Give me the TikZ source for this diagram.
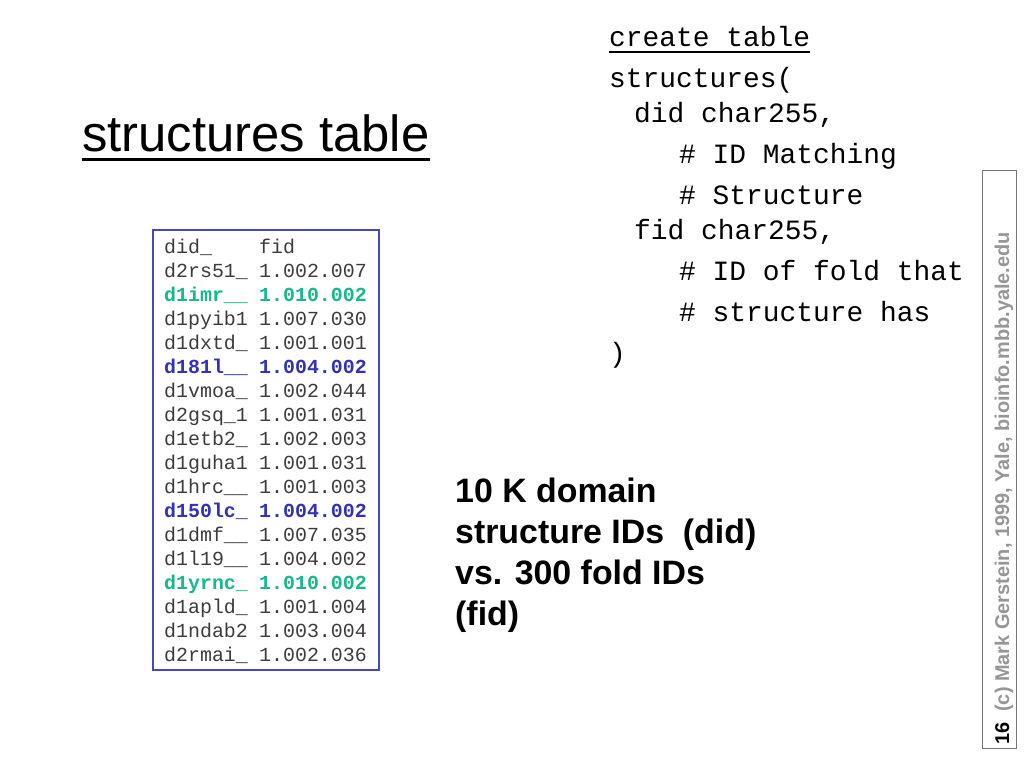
\documentclass[tikz,border=0pt]{standalone}
\usepackage{fontspec}
\setmainfont{Liberation Sans}
\setmonofont{Liberation Mono}
\definecolor{tblue}{RGB}{72,72,190}
\definecolor{rowblue}{RGB}{50,50,185}
\definecolor{rowgreen}{RGB}{22,185,140}
\definecolor{cellgrey}{RGB}{60,60,60}
\definecolor{sidegrey}{RGB}{150,150,150}
\tikzset{
  codeline/.style={anchor=base west, inner sep=0pt, font=\ttfamily\fontsize{28}{34}\selectfont},
  note/.style={anchor=base west, inner sep=0pt, font=\bfseries\fontsize{34}{41}\selectfont},
}
\begin{document}
\begin{tikzpicture}[x=1bp,y=-1bp]
    \useasboundingbox[fill=white] (0,0) rectangle (1024,768);
    %title
    \node[anchor=base west,inner sep=0pt,font=\fontsize{51}{61}\selectfont] (title) at (82,151) {structures table};
    \draw[line width=3.5] ([yshift=-8.5]title.base west) -- ([yshift=-8.5]title.base east);
    %draw table
    \draw[tblue,line width=1.2] (153,230) rectangle (379,670);
    \foreach \did/\fid/\col/\wt [count=\i from 0] in {%
        did\_/fid/cellgrey/\mdseries,
        d2rs51\_/1.002.007/cellgrey/\mdseries,
        d1imr\_\_/1.010.002/rowgreen/\bfseries,
        d1pyib1/1.007.030/cellgrey/\mdseries,
        d1dxtd\_/1.001.001/cellgrey/\mdseries,
        d181l\_\_/1.004.002/rowblue/\bfseries,
        d1vmoa\_/1.002.044/cellgrey/\mdseries,
        d2gsq\_1/1.001.031/cellgrey/\mdseries,
        d1etb2\_/1.002.003/cellgrey/\mdseries,
        d1guha1/1.001.031/cellgrey/\mdseries,
        d1hrc\_\_/1.001.003/cellgrey/\mdseries,
        d150lc\_/1.004.002/rowblue/\bfseries,
        d1dmf\_\_/1.007.035/cellgrey/\mdseries,
        d1l19\_\_/1.004.002/cellgrey/\mdseries,
        d1yrnc\_/1.010.002/rowgreen/\bfseries,
        d1apld\_/1.001.004/cellgrey/\mdseries,
        d1ndab2/1.003.004/cellgrey/\mdseries,
        d2rmai\_/1.002.036/cellgrey/\mdseries}
        {%
            \node[anchor=base west,inner sep=0pt,text=\col,font=\ttfamily\fontsize{20}{24}\selectfont\wt] (did\i) at (164,253+24*\i) {\did};
            \node[anchor=base west,inner sep=0pt,text=\col,font=\ttfamily\fontsize{20}{24}\selectfont\wt] (fid\i) at (259,253+24*\i) {\fid};
        }
    %draw sql code
    \node[codeline] (create) at (609,47) {create table};
    \draw[line width=1.8] ([yshift=-5]create.base west) -- ([yshift=-5]create.base east);
    \node[codeline] (struct) at (609,88) {structures(};
    \node[codeline] (did) at (634,122) {did char255,};
    \node[codeline] (cmtA) at (679,163) {\# ID Matching};
    \node[codeline] (cmtB) at (679,204) {\# Structure};
    \node[codeline] (fid) at (634,239) {fid char255,};
    \node[codeline] (cmtC) at (679,280) {\# ID of fold that};
    \node[codeline] (cmtD) at (679,321) {\# structure has};
    \node[codeline] (close) at (609,362) {)};
    %draw note
    \foreach \txt [count=\j from 0] in {10 K domain, structure IDs\ \ (did), vs. 300 fold IDs, (fid)}
        {%
            \node[note] (note\j) at (455,502+41*\j) {\txt};
        }
    %draw side bar
    \draw[black!55,line width=0.8] (982,170) rectangle (1016,748);
    \node[rotate=90,anchor=base west,inner sep=0pt,text=sidegrey,font=\bfseries\fontsize{20}{24}\selectfont] (credit) at (1009,745)
        {{\color{black}16}\hspace{11bp}(c) Mark Gerstein, 1999, Yale, bioinfo.mbb.yale.edu};
\end{tikzpicture}
\end{document}
